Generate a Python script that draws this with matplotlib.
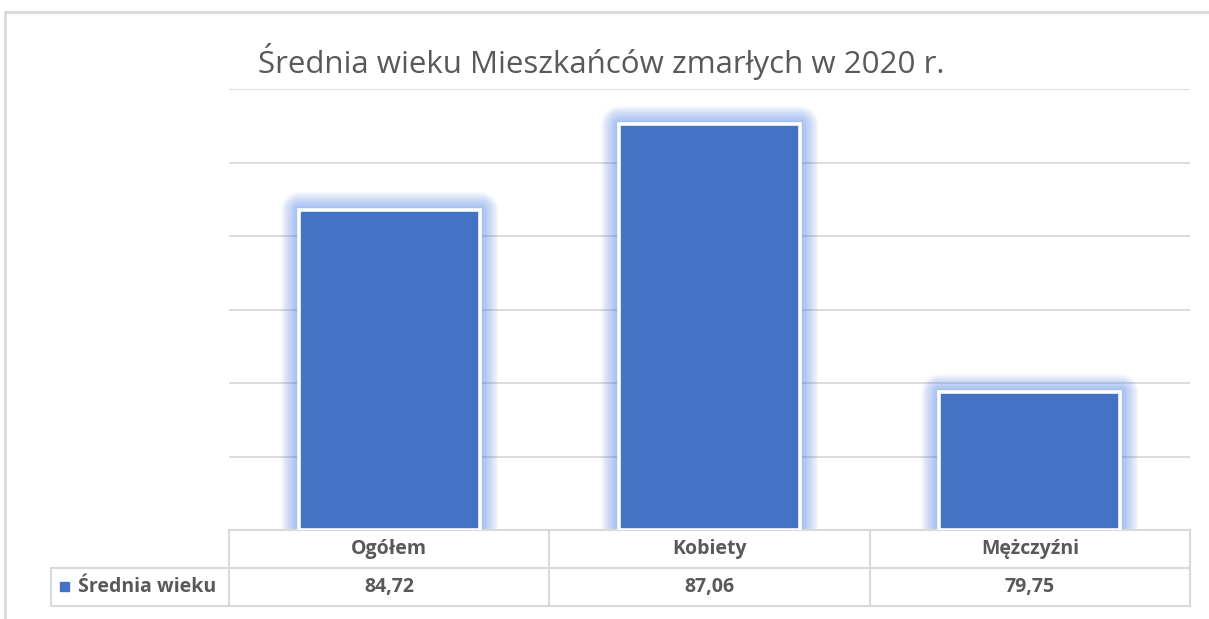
import matplotlib
matplotlib.use("Agg")
from matplotlib import pyplot as plt
from matplotlib.patches import Rectangle
from matplotlib.lines import Line2D

kategorie = ["Ogółem", "Kobiety", "Mężczyźni"]
srednia_wieku = [84.72, 87.06, 79.75]
nazwa_serii = "Średnia wieku"
tytul = "Średnia wieku Mieszkańców zmarłych w 2020 r."

plt.rcParams["font.family"] = ["Open Sans", "DejaVu Sans"]

W, H = 1209, 619
fig = plt.figure(figsize=(W / 100, H / 100), dpi=100)

# obszar wykresu (piksele -> ułamki figury)
x0, x1, y_top, y_bot = 229, 1190, 89, 530
ax = fig.add_axes([x0 / W, 1 - y_bot / H, (x1 - x0) / W, (y_bot - y_top) / H])

niebieski = "#4472C4"
szary_txt = "#595959"
szary_lin = "#D9D9D9"

x = range(len(kategorie))
szer = 0.565

# poświata wokół słupków (wiele cienkich warstw = miękkie przejście)
for lw in range(26, 3, -2):
    ax.bar(x, [v - 76 for v in srednia_wieku], bottom=76, width=szer,
           color="none", edgecolor="#4A82E6", linewidth=lw, alpha=0.05,
           joinstyle="round", zorder=2)
ax.bar(x, [v - 76 for v in srednia_wieku], bottom=76, width=szer,
       color=niebieski, edgecolor="white", linewidth=2.6, zorder=3)

ax.set_xlim(-0.5, len(kategorie) - 0.5)
ax.set_ylim(76, 88)
ax.set_yticks(range(76, 89, 2))
ax.yaxis.grid(True, color=szary_lin, linewidth=1.3)
ax.set_axisbelow(True)
ax.tick_params(left=False, bottom=False, labelleft=False, labelbottom=False)
for s in ax.spines.values():
    s.set_visible(False)

# tabela danych pod wykresem
tr = ax.get_xaxis_transform()
wys = 38 / (y_bot - y_top)
lewa = (51 - x0) / ((x1 - x0) / 3) - 0.5
prawa = len(kategorie) - 0.5
kw = dict(color=szary_lin, linewidth=1.5, transform=tr, clip_on=False)
ax.add_line(Line2D([-0.5, prawa], [0, 0], **kw))
ax.add_line(Line2D([lewa, prawa], [-wys, -wys], **kw))
ax.add_line(Line2D([lewa, prawa], [-2 * wys, -2 * wys], **kw))
ax.add_line(Line2D([lewa, lewa], [-wys, -2 * wys], **kw))
for i in range(len(kategorie) + 1):
    ax.add_line(Line2D([i - 0.5, i - 0.5], [0, -2 * wys], **kw))

for i, (k, v) in enumerate(zip(kategorie, srednia_wieku)):
    ax.text(i, -wys / 2, k, transform=tr, ha="center", va="center",
            fontsize=14, fontweight="bold", color=szary_txt)
    ax.text(i, -1.5 * wys, f"{v:.2f}".replace(".", ","), transform=tr,
            ha="center", va="center", fontsize=14, fontweight="bold",
            color=szary_txt)

fig.patches.append(Rectangle((60 / W, 1 - 591 / H), 9 / W, 9 / H,
                             transform=fig.transFigure, color=niebieski))
fig.text(78 / W, 1 - 587 / H, nazwa_serii, ha="left", va="center",
         fontsize=14, fontweight="bold", color=szary_txt)

# tytuł
fig.text(601 / W, 1 - 62 / H, tytul, ha="center", va="center",
         fontsize=22.5, color=szary_txt)

# ramka wykresu
fig.add_artist(Line2D([5 / W, 1], [1 - 12 / H, 1 - 12 / H],
                      color=szary_lin, linewidth=2, transform=fig.transFigure))
fig.add_artist(Line2D([5 / W, 5 / W], [1 - 12 / H, 0],
                      color=szary_lin, linewidth=2, transform=fig.transFigure))

fig.savefig("out.png", dpi=100)
